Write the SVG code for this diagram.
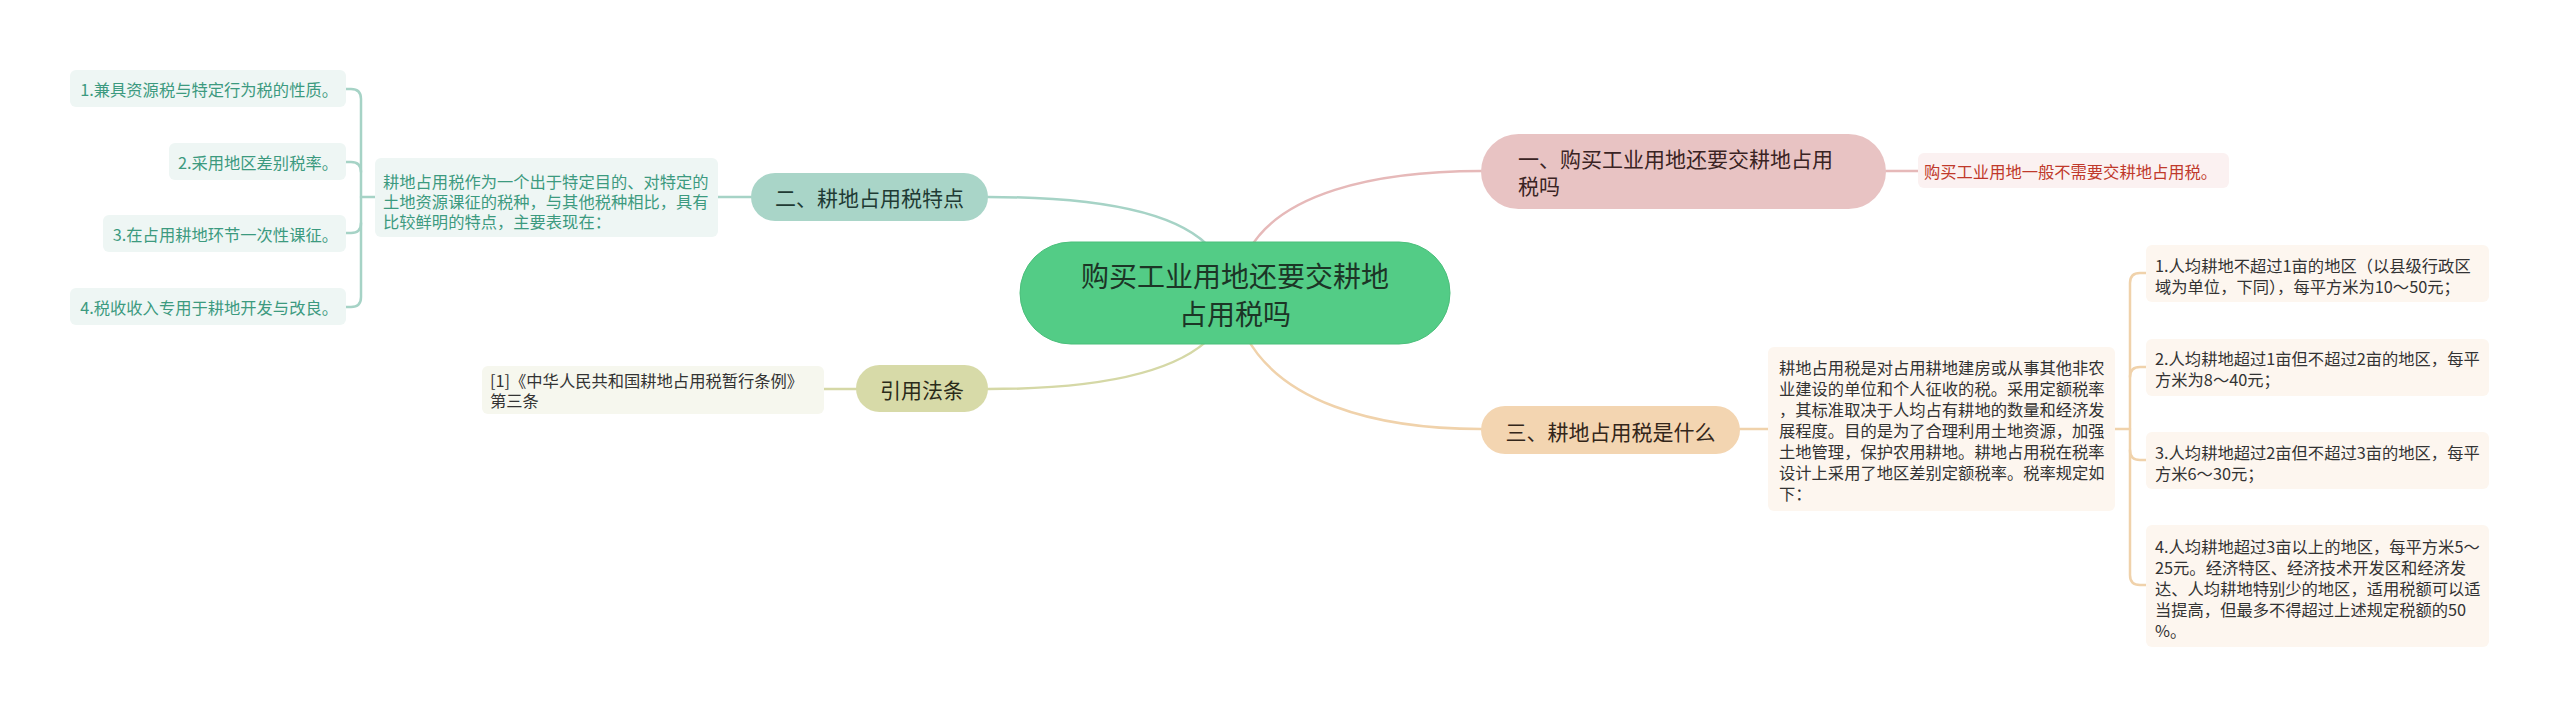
<svg xmlns="http://www.w3.org/2000/svg" width="2560" height="717" viewBox="0 0 2560 717">
<style>
text{font-family:"Noto Sans CJK SC","Noto Sans",sans-serif;dominant-baseline:central}
.s{font-size:16.3px}
.m{font-size:21px}
.c{font-size:28px}
.ln{fill:none;stroke-width:2.5;stroke-linecap:round}
.tl{stroke:#a6d3c6}.pk{stroke:#e6b9b9}.pc{stroke:#f0d2ab}.ol{stroke:#d5d8a6}
.lt{fill:#3c9a7f}.dk{fill:#333}
</style>
<rect width="2560" height="717" fill="#fff"/>
<g id="connectors">
<path class="ln tl" d="M988 197 C1100 197 1180 212 1212 250"/>
<path class="ln pk" d="M1249 250 C1280 195 1370 171 1481 171"/>
<path class="ln pc" d="M1246 336 C1280 400 1370 429 1481 429"/>
<path class="ln ol" d="M1212 336 C1175 375 1090 389 988 389"/>
<path class="ln tl" d="M718 197 H751"/>
<path class="ln tl" d="M377 197 H361"/>
<path class="ln tl" d="M346 89 H351 Q361 89 361 99 V297 Q361 307 351 307 H346"/>
<path class="ln tl" d="M346 162 H351 Q361 162 361 172"/>
<path class="ln tl" d="M346 233 H351 Q361 233 361 223"/>
<path class="ln ol" d="M824 389 H856"/>
<path class="ln pk" d="M1886 171 H1918"/>
<path class="ln pc" d="M1740 429 H1768"/>
<path class="ln pc" d="M2115 429 H2130"/>
<path class="ln pc" d="M2146 273 H2140 Q2130 273 2130 283 V575 Q2130 585 2140 585 H2146"/>
<path class="ln pc" d="M2146 367 H2140 Q2130 367 2130 377"/>
<path class="ln pc" d="M2146 460 H2140 Q2130 460 2130 450"/>
</g>
<g id="center">
<rect x="1020" y="242" width="430" height="102" rx="51" fill="#53cc86" stroke="#4bbf7b" stroke-width="1"/>
<text class="c" x="1235" y="275" text-anchor="middle" fill="#1c3526">购买工业用地还要交耕地</text>
<text class="c" x="1235" y="313" text-anchor="middle" fill="#1c3526">占用税吗</text>
</g>
<g id="n1">
<rect x="1481" y="134" width="405" height="75" rx="37.5" fill="#e8c3c3"/>
<text class="m" x="1518" y="158" fill="#3a2323">一、购买工业用地还要交耕地占用</text>
<text class="m" x="1518" y="185" fill="#3a2323">税吗</text>
</g>
<g id="n1-leaf">
<rect x="1918" y="153" width="311" height="35" rx="6" fill="#fbf1f1"/>
<text class="s" x="1924" y="171" fill="#c0392b">购买工业用地一般不需要交耕地占用税。</text>
</g>
<g id="n2">
<rect x="751" y="173" width="237" height="48" rx="24" fill="#a9d5c8"/>
<text class="m" x="869.5" y="197" text-anchor="middle" fill="#1f3b34">二、耕地占用税特点</text>
</g>
<g id="n2-desc">
<rect x="375" y="158" width="343" height="79" rx="6" fill="#eef6f4"/>
<text class="s lt" x="383" y="181">耕地占用税作为一个出于特定目的、对特定的</text>
<text class="s lt" x="383" y="201">土地资源课征的税种，与其他税种相比，具有</text>
<text class="s lt" x="383" y="221">比较鲜明的特点，主要表现在：</text>
</g>
<g id="n2-l1">
<rect x="70" y="70" width="276" height="37" rx="6" fill="#eef6f4"/>
<text class="s lt" x="338" y="89" text-anchor="end">1.兼具资源税与特定行为税的性质。</text>
</g>
<g id="n2-l2">
<rect x="169" y="143" width="177" height="37" rx="6" fill="#eef6f4"/>
<text class="s lt" x="338" y="162" text-anchor="end">2.采用地区差别税率。</text>
</g>
<g id="n2-l3">
<rect x="103" y="215" width="243" height="37" rx="6" fill="#eef6f4"/>
<text class="s lt" x="338" y="234" text-anchor="end">3.在占用耕地环节一次性课征。</text>
</g>
<g id="n2-l4">
<rect x="70" y="288" width="276" height="37" rx="6" fill="#eef6f4"/>
<text class="s lt" x="338" y="307" text-anchor="end">4.税收收入专用于耕地开发与改良。</text>
</g>
<g id="n3">
<rect x="1481" y="406" width="259" height="48" rx="24" fill="#f3d5b1"/>
<text class="m" x="1610.5" y="431" text-anchor="middle" fill="#33261a">三、耕地占用税是什么</text>
</g>
<g id="n3-desc">
<rect x="1768" y="347" width="347" height="164" rx="6" fill="#fdf6ef"/>
<text class="s dk" x="1779" y="367">耕地占用税是对占用耕地建房或从事其他非农</text>
<text class="s dk" x="1779" y="388">业建设的单位和个人征收的税。采用定额税率</text>
<text class="s dk" x="1779" y="409">，其标准取决于人均占有耕地的数量和经济发</text>
<text class="s dk" x="1779" y="430">展程度。目的是为了合理利用土地资源，加强</text>
<text class="s dk" x="1779" y="451">土地管理，保护农用耕地。耕地占用税在税率</text>
<text class="s dk" x="1779" y="472">设计上采用了地区差别定额税率。税率规定如</text>
<text class="s dk" x="1779" y="493">下：</text>
</g>
<g id="n3-l1">
<rect x="2146" y="245" width="343" height="57" rx="6" fill="#fdf6ef"/>
<text class="s dk" x="2155" y="265">1.人均耕地不超过1亩的地区（以县级行政区</text>
<text class="s dk" x="2155" y="286">域为单位，下同），每平方米为10～50元；</text>
</g>
<g id="n3-l2">
<rect x="2146" y="339" width="343" height="57" rx="6" fill="#fdf6ef"/>
<text class="s dk" x="2155" y="358">2.人均耕地超过1亩但不超过2亩的地区，每平</text>
<text class="s dk" x="2155" y="379">方米为8～40元；</text>
</g>
<g id="n3-l3">
<rect x="2146" y="432" width="343" height="57" rx="6" fill="#fdf6ef"/>
<text class="s dk" x="2155" y="452">3.人均耕地超过2亩但不超过3亩的地区，每平</text>
<text class="s dk" x="2155" y="473">方米6～30元；</text>
</g>
<g id="n3-l4">
<rect x="2146" y="525" width="343" height="122" rx="6" fill="#fdf6ef"/>
<text class="s dk" x="2155" y="546">4.人均耕地超过3亩以上的地区，每平方米5～</text>
<text class="s dk" x="2155" y="567">25元。经济特区、经济技术开发区和经济发</text>
<text class="s dk" x="2155" y="588">达、人均耕地特别少的地区，适用税额可以适</text>
<text class="s dk" x="2155" y="609">当提高，但最多不得超过上述规定税额的50</text>
<text class="s dk" x="2155" y="630">%。</text>
</g>
<g id="n4">
<rect x="856" y="365" width="132" height="47" rx="23.5" fill="#d7daa8"/>
<text class="m" x="922" y="389" text-anchor="middle" fill="#2b2b1a">引用法条</text>
</g>
<g id="n4-leaf">
<rect x="482" y="366" width="342" height="48" rx="6" fill="#f6f7ee"/>
<text class="s dk" x="490" y="380">[1]《中华人民共和国耕地占用税暂行条例》</text>
<text class="s dk" x="490" y="400">第三条</text>
</g>
</svg>
